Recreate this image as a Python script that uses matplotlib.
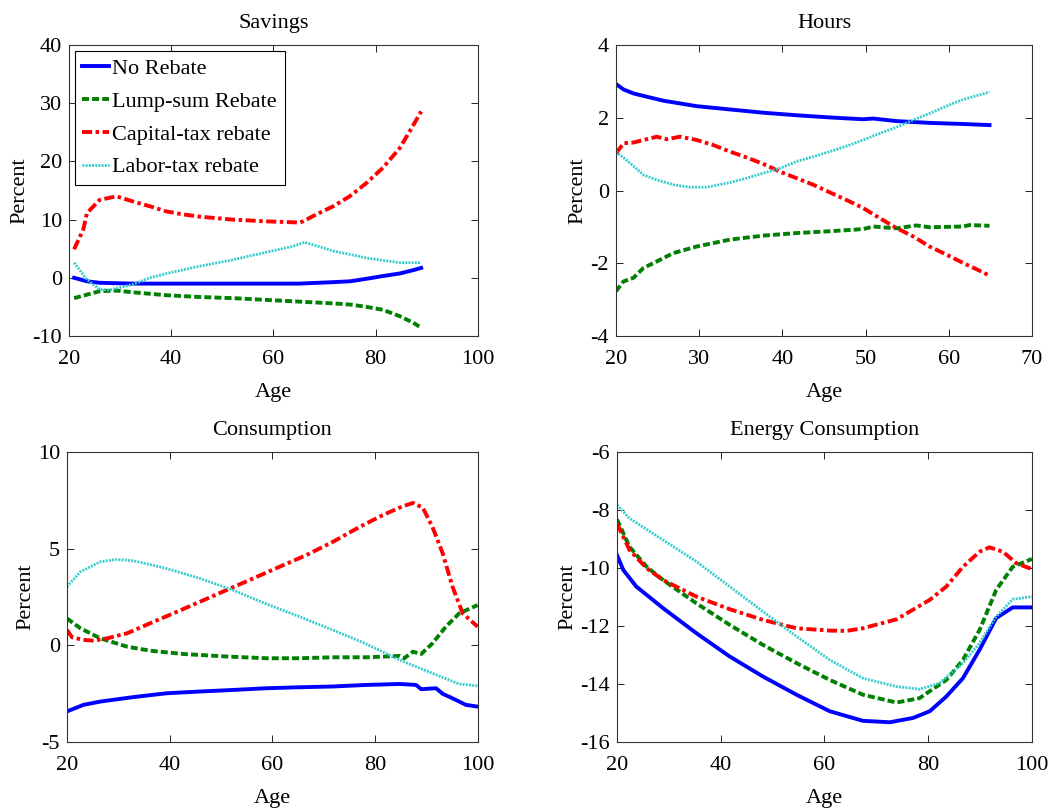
import matplotlib
matplotlib.use("Agg")
import matplotlib.pyplot as plt

plt.rcParams['font.family'] = ['Liberation Serif', 'DejaVu Serif']
plt.rcParams['font.size'] = 16
plt.rcParams['axes.unicode_minus'] = False

labels = ["No Rebate", "Lump-sum Rebate", "Capital-tax rebate", "Labor-tax rebate"]

# Savings
sav_blue_x = [21, 23.5, 26, 32.6, 45, 55, 65, 71.7, 75, 78, 81.4, 84.7, 87.3, 88.9]
sav_blue_y = [0, -0.6, -0.86, -1.0, -1.0, -1.0, -1.0, -0.75, -0.6, -0.2, 0.3, 0.74, 1.3, 1.7]
sav_green_x = [21, 23.5, 26, 29.3, 32.6, 39.1, 45.6, 52.1, 58.6, 65.1, 71.7, 75, 78.2, 81.4, 84.7, 87.3, 88.9]
sav_green_y = [-3.5, -2.9, -2.3, -2.2, -2.5, -3.0, -3.3, -3.5, -3.8, -4.1, -4.4, -4.6, -5.0, -5.5, -6.6, -7.7, -8.6]
sav_red_x = [21, 22.8, 23.5, 26, 29.3, 32.6, 35.8, 39.1, 42.3, 45.6, 52.1, 58.6, 65.1, 65.8, 68.4, 71.7, 74.9, 78.2, 81.4, 84.7, 86.6, 88.9]
sav_red_y = [4.9, 8.3, 11.1, 13.4, 14.0, 13.1, 12.3, 11.4, 10.9, 10.5, 10.0, 9.7, 9.5, 9.7, 10.9, 12.3, 14.0, 16.3, 18.9, 22.3, 25.1, 28.6]
sav_cyan_x = [21, 23.5, 26, 28, 32.6, 35.8, 39.1, 45.6, 52.1, 58.6, 63.8, 66.1, 68.4, 71.7, 75, 78.2, 81.4, 84.7, 88.9]
sav_cyan_y = [2.6, -0.3, -2.0, -2.1, -1.1, 0.0, 0.74, 2.0, 3.1, 4.4, 5.4, 6.1, 5.5, 4.6, 4.0, 3.4, 3.0, 2.6, 2.6]

# Hours
hrs_blue_x = [20, 20.9, 22.1, 23.7, 25.7, 29.7, 33.7, 37.7, 41.7, 45.7, 49.7, 50.9, 53.7, 57.7, 61.7, 64.9]
hrs_blue_y = [2.93, 2.78, 2.67, 2.58, 2.47, 2.32, 2.23, 2.14, 2.07, 2.01, 1.96, 1.98, 1.91, 1.86, 1.83, 1.80]
hrs_green_x = [20, 20.9, 22.1, 23.3, 24.9, 26.9, 29.7, 33.7, 37.7, 41.7, 45.7, 49.7, 50.9, 53.7, 56.1, 57.7, 61.7, 62.5, 64.9]
hrs_green_y = [-2.77, -2.50, -2.40, -2.13, -1.95, -1.72, -1.54, -1.35, -1.24, -1.17, -1.12, -1.06, -0.99, -1.04, -0.96, -1.01, -0.99, -0.95, -0.97]
hrs_red_x = [20, 20.9, 22.1, 23.3, 24.9, 26.1, 27.7, 29.7, 31.7, 33.7, 35.7, 37.7, 39.7, 41.7, 43.7, 45.7, 47.7, 49.7, 51.7, 53.7, 55.7, 57.7, 59.7, 61.7, 63.3, 64.9]
hrs_red_y = [1.02, 1.30, 1.32, 1.39, 1.48, 1.41, 1.48, 1.39, 1.25, 1.07, 0.91, 0.73, 0.52, 0.34, 0.16, -0.05, -0.26, -0.48, -0.76, -1.03, -1.26, -1.54, -1.76, -1.99, -2.16, -2.34]
hrs_cyan_x = [20, 21.7, 23.3, 24.9, 26.9, 28.9, 30.9, 33.7, 35.7, 37.7, 39.7, 41.7, 43.7, 45.7, 47.7, 49.7, 51.7, 53.7, 55.7, 57.7, 59.7, 61.7, 64.9]
hrs_cyan_y = [1.07, 0.75, 0.43, 0.29, 0.16, 0.09, 0.09, 0.22, 0.34, 0.48, 0.61, 0.80, 0.93, 1.07, 1.22, 1.39, 1.57, 1.74, 1.94, 2.12, 2.32, 2.50, 2.71]

# Consumption
con_blue_x = [20, 23.2, 26.5, 32.9, 39.4, 45.9, 52.3, 58.9, 65.3, 71.8, 78.3, 84.8, 88, 89, 91.9, 93.2, 95.1, 97.7, 100]
con_blue_y = [-3.42, -3.08, -2.91, -2.68, -2.48, -2.39, -2.31, -2.22, -2.17, -2.13, -2.05, -2.0, -2.05, -2.27, -2.22, -2.51, -2.74, -3.08, -3.17]
con_green_x = [20, 22.6, 26.5, 31.7, 36.2, 42.7, 51.1, 58.9, 65.3, 71.8, 78.3, 84.8, 85.7, 87.4, 89, 91.2, 93.8, 96.4, 100]
con_green_y = [1.39, 0.88, 0.36, -0.07, -0.28, -0.45, -0.58, -0.67, -0.67, -0.62, -0.62, -0.55, -0.67, -0.33, -0.45, 0.10, 0.96, 1.65, 2.08]
con_red_x = [20, 21, 23.2, 25.2, 27.8, 31.7, 36.2, 40.7, 45.9, 51.1, 56.3, 61.4, 66.6, 71.8, 77, 81.5, 85.4, 87.4, 89.3, 91.2, 93.2, 95.1, 97.1, 100]
con_red_y = [0.79, 0.41, 0.28, 0.24, 0.36, 0.62, 1.14, 1.65, 2.25, 2.86, 3.46, 4.06, 4.66, 5.35, 6.12, 6.73, 7.19, 7.36, 7.12, 6.12, 4.75, 3.03, 1.65, 0.96]
con_cyan_x = [20, 22.6, 26.5, 29.7, 33, 39.4, 45.9, 52.3, 58.9, 65.3, 71.8, 78.3, 84.8, 91.2, 96.4, 100]
con_cyan_y = [3.03, 3.80, 4.32, 4.44, 4.37, 3.97, 3.46, 2.86, 2.13, 1.48, 0.79, 0.07, -0.76, -1.45, -2.0, -2.10]

# Energy consumption
eng_blue_x = [20, 21.2, 23.7, 28.9, 35.3, 41.7, 48.1, 54.6, 61, 67.4, 72.6, 77.1, 80.3, 83.5, 86.7, 89.9, 93.1, 96.3, 100]
eng_blue_y = [-9.56, -10.07, -10.64, -11.39, -12.25, -13.05, -13.74, -14.37, -14.94, -15.27, -15.32, -15.17, -14.94, -14.43, -13.80, -12.82, -11.73, -11.36, -11.36]
eng_green_x = [20, 22.4, 25.7, 28.9, 35.3, 41.7, 48.1, 54.6, 61, 67.4, 73.9, 78.3, 83.5, 86.7, 89.9, 93.1, 96.3, 100]
eng_green_y = [-8.33, -9.27, -9.96, -10.42, -11.22, -11.96, -12.65, -13.28, -13.86, -14.37, -14.64, -14.49, -13.86, -13.17, -12.14, -10.76, -9.96, -9.69]
eng_red_x = [20, 22.4, 25.7, 28.9, 35.3, 41.7, 48.1, 54.6, 61, 64.2, 67.4, 73.9, 80.3, 83.5, 86.7, 89.9, 91.8, 94.4, 97, 100]
eng_red_y = [-8.47, -9.38, -10.01, -10.42, -10.99, -11.42, -11.79, -12.08, -12.16, -12.17, -12.08, -11.77, -11.10, -10.64, -9.96, -9.44, -9.29, -9.44, -9.84, -10.04]
eng_cyan_x = [20, 22.4, 28.9, 35.3, 41.7, 48.1, 54.6, 61, 67.4, 73.9, 78.3, 82.2, 86.7, 89.9, 93.1, 96.3, 100]
eng_cyan_y = [-7.83, -8.29, -9.04, -9.78, -10.64, -11.50, -12.36, -13.17, -13.80, -14.09, -14.18, -13.97, -13.28, -12.59, -11.68, -11.08, -10.99]

styles = [dict(color='#0000ff', ls='-', lw=2.8),
          dict(color='#008000', ls=(0, (1.8, 0.8)), lw=2.8),
          dict(color='#ff0000', ls=(0, (2.6, 0.9, 0.9, 0.9)), lw=2.8),
          dict(color='#33cccc', ls=(0, (0.7, 0.45)), lw=2.0)]

panels = [
    ("Savings", [0.0655, 0.5842, 0.3884, 0.360],
     [(sav_blue_x, sav_blue_y), (sav_green_x, sav_green_y), (sav_red_x, sav_red_y), (sav_cyan_x, sav_cyan_y)],
     (20, 100, 20), (-10, 40, 10)),
    ("Hours", [0.585, 0.5842, 0.395, 0.360],
     [(hrs_blue_x, hrs_blue_y), (hrs_green_x, hrs_green_y), (hrs_red_x, hrs_red_y), (hrs_cyan_x, hrs_cyan_y)],
     (20, 70, 10), (-4, 4, 2)),
    ("Consumption", [0.0636, 0.0817, 0.390, 0.359],
     [(con_blue_x, con_blue_y), (con_green_x, con_green_y), (con_red_x, con_red_y), (con_cyan_x, con_cyan_y)],
     (20, 100, 20), (-5, 10, 5)),
    ("Energy Consumption", [0.586, 0.0817, 0.394, 0.359],
     [(eng_blue_x, eng_blue_y), (eng_green_x, eng_green_y), (eng_red_x, eng_red_y), (eng_cyan_x, eng_cyan_y)],
     (20, 100, 20), (-16, -6, 2)),
]

fig = plt.figure(figsize=(10.53, 8.08), dpi=100)

for i, (title, rect, series, xt, yt) in enumerate(panels):
    ax = fig.add_axes(rect)
    for (x, y), st, lab in zip(series, styles, labels):
        ax.plot(x, y, label=lab, **st)
    ax.set_xlim(xt[0], xt[1])
    ax.set_ylim(yt[0], yt[1])
    ax.set_xticks(range(xt[0], xt[1] + 1, xt[2]))
    ax.set_yticks(range(yt[0], yt[1] + 1, yt[2]))
    ax.tick_params(direction='in', top=True, right=True, length=5, width=0.6, labelsize=16)
    ax.tick_params(axis='x', pad=10)
    ax.tick_params(axis='y', pad=5)
    for s in ax.spines.values():
        s.set_linewidth(0.8)
        s.set_color('#333333')
    ax.set_title(title, fontsize=16, pad=12)
    ax.set_xlabel("Age", fontsize=16, labelpad=10)
    ax.set_ylabel("Percent", fontsize=16, labelpad=2)
    if i == 0:
        leg = ax.legend(loc='upper left', fancybox=False, framealpha=1, edgecolor='black',
                        fontsize=16, handlelength=1.2, handletextpad=0.15, borderpad=0.35,
                        labelspacing=0.55, borderaxespad=0.25)
        leg.get_frame().set_linewidth(0.8)

fig.savefig("out.png", dpi=100)
